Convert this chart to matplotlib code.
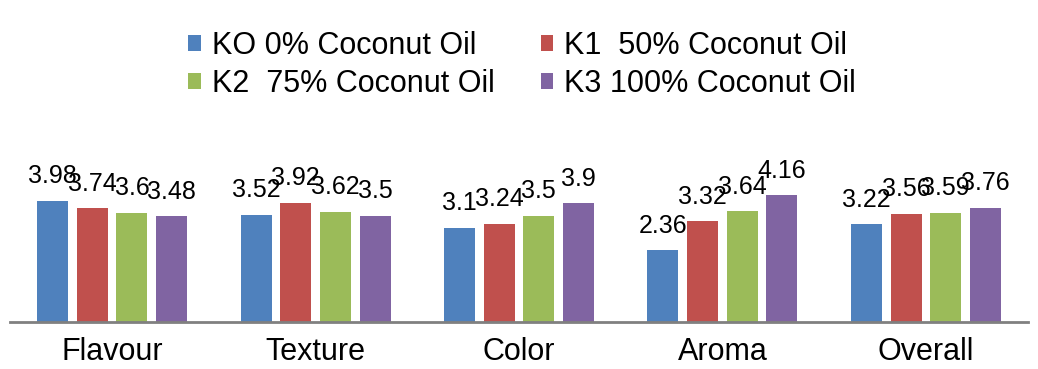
import numpy as np
import matplotlib
matplotlib.use('Agg')
from matplotlib import pyplot as plt

plt.rcParams['font.family'] = ['Liberation Sans', 'DejaVu Sans']

categories = ['Flavour', 'Texture', 'Color', 'Aroma', 'Overall']
series_names = ['KO 0% Coconut Oil', 'K1  50% Coconut Oil',
                'K2  75% Coconut Oil', 'K3 100% Coconut Oil']
k0 = [3.98, 3.52, 3.1, 2.36, 3.22]
k1 = [3.74, 3.92, 3.24, 3.32, 3.56]
k2 = [3.6, 3.62, 3.5, 3.64, 3.59]
k3 = [3.48, 3.5, 3.9, 4.16, 3.76]
colors = ['#4F81BD', '#C0504D', '#9BBB59', '#8064A2']

fig = plt.figure(figsize=(10.38, 3.69), dpi=100)
ax = fig.add_axes([0.01, 0.127, 0.98, 0.396])

x = np.arange(len(categories))
step = 0.195
width = 0.152
bars = []
for i, (vals, col, name) in enumerate(zip([k0, k1, k2, k3], colors, series_names)):
    b = ax.bar(x + (i - 1.5) * step, vals, width, color=col, label=name)
    ax.bar_label(b, labels=[f'{v:g}' for v in vals], padding=9, fontsize=18)
    bars.append(b)

ax.set_xlim(-0.5, len(categories) - 0.5)
ax.set_ylim(0, 4.8)
ax.set_yticks([])
ax.set_xticks(x)
ax.set_xticklabels(categories, fontsize=22)
ax.tick_params(axis='x', length=0, pad=11)
for s in ['top', 'right', 'left']:
    ax.spines[s].set_visible(False)
ax.spines['bottom'].set_color('#808080')
ax.spines['bottom'].set_linewidth(2)

# legend fills column by column, so reorder to get K0 K1 / K2 K3 rows
order = [0, 2, 1, 3]
fig.legend(handles=[bars[i] for i in order], labels=[series_names[i] for i in order],
           loc='upper left', bbox_to_anchor=(0.155, 0.99), ncol=2, frameon=False,
           fontsize=22, handlelength=0.42, handleheight=0.42, handletextpad=0.35,
           columnspacing=1.5, labelspacing=0.25)

fig.savefig('out.png', dpi=100)
